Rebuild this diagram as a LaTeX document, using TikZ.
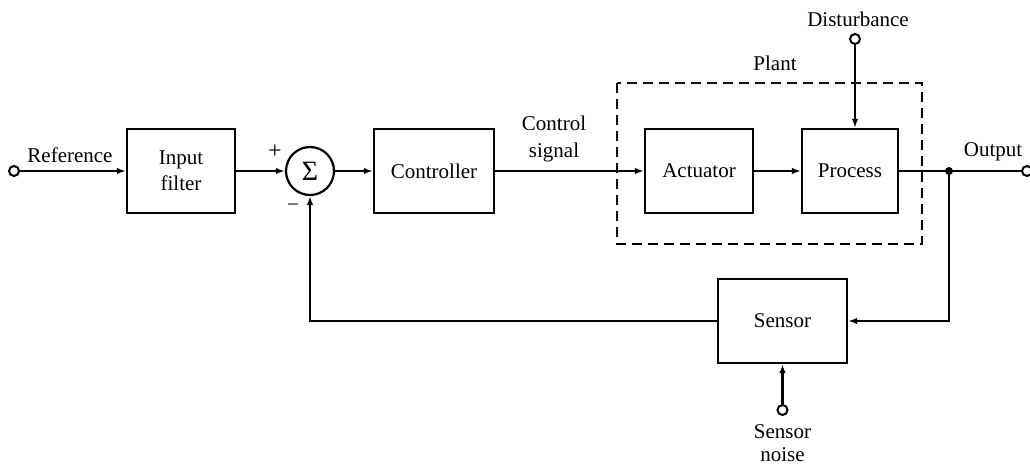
\documentclass[tikz,border=0pt]{standalone}
\usepackage{fontspec}
\setmainfont{Liberation Serif}
\usetikzlibrary{arrows.meta}
\begin{document}
\begin{tikzpicture}[x=1pt,y=-1pt,line width=2.2pt,
  >={Latex[length=9pt,width=6.5pt]},
  txt/.style={font=\fontsize{21}{24}\selectfont, align=center, inner sep=0pt},
  blk/.style={draw, txt, minimum height=84pt},
  term/.style={draw, circle, fill=white, minimum size=10pt, inner sep=0pt, line width=2pt},
  dot/.style={circle, fill=black, minimum size=8pt, inner sep=0pt}]
\useasboundingbox (0,0) rectangle (1030,468);
% plant frame
\draw[dash pattern=on 10pt off 6pt, line width=2pt] (617,83) rectangle (922,244);
\node[txt] (plant) at (775,63) {Plant};
% blocks
\node[blk, minimum width=108pt] (filt) at (181,171) {Input\\[2pt]filter};
\node[draw, circle, minimum size=48pt, inner sep=0pt, font=\fontsize{28}{30}\selectfont] (sum) at (310,171) {Σ};
\node[blk, minimum width=120pt] (ctrl) at (434,171) {Controller};
\node[blk, minimum width=108pt] (act) at (699,171) {Actuator};
\node[blk, minimum width=96pt] (proc) at (850,171) {Process};
\node[blk, minimum width=129pt] (sens) at (782.5,321) {Sensor};
% terminals
\node[term] (ref) at (14,171) {};
\node[term] (out) at (1027,171) {};
\node[term] (dist) at (855,39) {};
\node[term] (noise) at (782.5,410) {};
\node[dot] (junc) at (949,171) {};
\coordinate (fbl) at (310,321);
\coordinate (fbr) at (949,321);
% labels
\node[txt] (reflbl) at (70,155) {Reference};
\node[txt, font=\fontsize{24}{26}\selectfont] (plus) at (275,152) {+};
\node[txt] (minus) at (293,208) {−};
\node[txt] (csig) at (554,139) {Control\\[3pt]signal};
\node[txt] (outlbl) at (993,152) {Output};
\node[txt] (distlbl) at (858,19) {Disturbance};
\node[txt, font=\fontsize{21}{23}\selectfont] (noiselbl) at (782.5,443) {Sensor\\noise};
% connectors
\draw[->] (ref) -- (filt);
\draw[->] (filt) -- (sum);
\draw[->] (sum) -- (ctrl);
\draw[->] (ctrl) -- (act);
\draw[->] (act) -- (proc);
\draw (proc) -- (out);
\draw[->] (dist) -- (dist |- proc.north);
\draw[->] (junc.center) -- (fbr) -- (sens);
\draw[->] (sens) -- (fbl) -- (sum);
\draw[->] (noise) -- (sens);
\end{tikzpicture}
\end{document}
